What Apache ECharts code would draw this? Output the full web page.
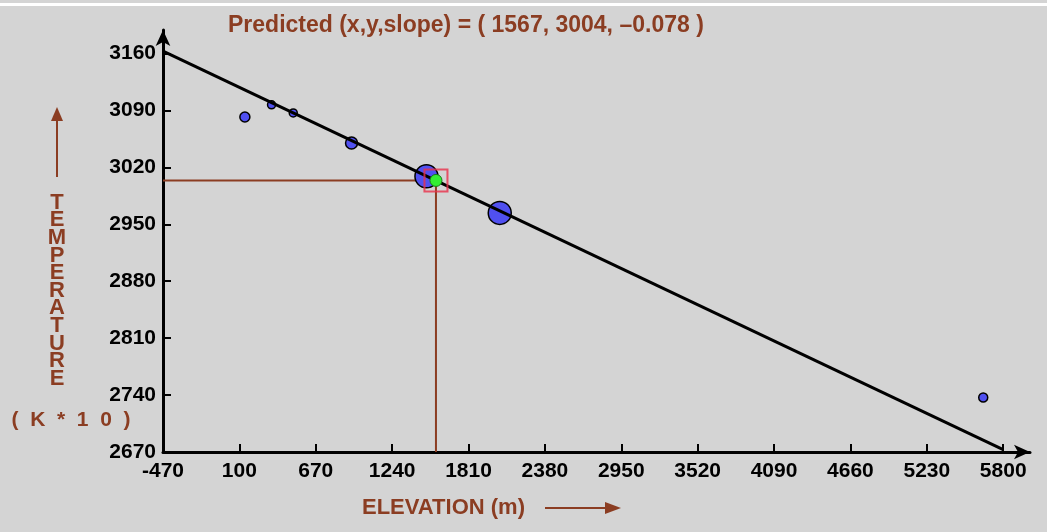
<!DOCTYPE html>
<html>
<head>
<meta charset="utf-8">
<script src="https://cdn.jsdelivr.net/npm/echarts@6/dist/echarts.min.js"></script>
<style>
html,body{margin:0;padding:0;background:#d4d4d4;}
#c{width:1047px;height:532px;}
</style>
</head>
<body>
<div id="c"></div>
<script>
// ---- data ----
const xTicks = [-470, 100, 670, 1240, 1810, 2380, 2950, 3520, 4090, 4660, 5230, 5800];
const yTicks = [2670, 2740, 2810, 2880, 2950, 3020, 3090, 3160];
const elevation = [141, 340, 502, 937, 1496, 2043, 5651];
const temperature = [3082, 3097, 3087, 3050, 3009, 2964, 2737];
const pointSize = [10, 8, 8, 12, 23, 23, 9];
const fitLineX = [-470, 5800];
const fitLineY = [3163, 2673];
const predicted = { x: 1567, y: 3004, slope: -0.078 };
const titleText = 'Predicted (x,y,slope) = ( ' + predicted.x + ', ' + predicted.y + ', ' + predicted.slope.toFixed(3).replace('-', '\u2013') + ' )';

const BROWN = '#8b3d22';
const chart = echarts.init(document.getElementById('c'));
const FONT = '"Liberation Sans", Arial, sans-serif';

chart.setOption({
  backgroundColor: '#d4d4d4',
  animation: false,
  grid: { left: 163, right: 17, top: 30, bottom: 80 },
  xAxis: {
    type: 'value', min: -470, max: 6000,
    axisLine: { show: true, onZero: false, lineStyle: { color: '#000', width: 3 }, symbol: ['none', 'arrow'], symbolSize: [11, 16] },
    axisTick: { show: true, inside: true, length: 8, lineStyle: { color: '#000', width: 2 }, customValues: xTicks },
    axisLabel: { customValues: xTicks, formatter: v => String(v), color: '#000', fontWeight: 'bold', fontSize: 21, fontFamily: FONT, margin: 9 },
    splitLine: { show: false }
  },
  yAxis: {
    type: 'value', min: 2670, max: 3189,
    axisLine: { show: true, onZero: false, lineStyle: { color: '#000', width: 3 }, symbol: ['none', 'arrow'], symbolSize: [11, 16] },
    axisTick: { show: true, inside: true, length: 8, lineStyle: { color: '#000', width: 2 }, customValues: yTicks },
    axisLabel: { customValues: yTicks, formatter: v => String(v), color: '#000', fontWeight: 'bold', fontSize: 21, fontFamily: FONT, margin: 7 },
    splitLine: { show: false }
  },
  series: [
    {
      type: 'line', silent: true, symbol: 'none', z: 2,
      lineStyle: { color: BROWN, width: 2 },
      data: [[xTicks[0], predicted.y], [predicted.x, predicted.y], [predicted.x, yTicks[0]]]
    },
    {
      type: 'scatter', z: 3,
      data: elevation.map((x, i) => ({ value: [x, temperature[i]], symbolSize: pointSize[i] })),
      itemStyle: { color: '#5050f0', borderColor: '#000', borderWidth: 1.5, opacity: 1 }
    },
    {
      type: 'line', silent: true, symbol: 'none', z: 4,
      lineStyle: { color: '#000', width: 3 },
      data: fitLineX.map((x, i) => [x, fitLineY[i]])
    },
    {
      type: 'scatter', z: 5, symbol: 'rect', symbolSize: [23, 22],
      itemStyle: { color: 'rgba(0,0,0,0)', borderColor: '#e8304a', borderWidth: 2 },
      data: [[predicted.x, predicted.y]]
    },
    {
      type: 'scatter', z: 6, symbolSize: 12,
      itemStyle: { color: '#33ee33', borderColor: '#1a7a1a', borderWidth: 1, opacity: 1 },
      data: [[predicted.x, predicted.y]]
    }
  ],
  graphic: [
    { type: 'rect', left: 0, top: 3, shape: { width: 1047, height: 3 }, style: { fill: '#ffffff' } },
    { type: 'text', x: 228, y: 26, style: { text: titleText, fill: BROWN, font: 'bold 23px ' + FONT, verticalAlign: 'middle' } },
    // y title arrow
    { type: 'line', shape: { x1: 57, y1: 177, x2: 57, y2: 114 }, style: { stroke: BROWN, lineWidth: 2 } },
    { type: 'polygon', shape: { points: [[57, 107], [51, 121], [63, 121]] }, style: { fill: BROWN } },
    { type: 'text', x: 57, y: 194, style: { text: 'TEMPERATURE'.split('').join('\n'), fill: BROWN, font: 'bold 22px ' + FONT, align: 'center', verticalAlign: 'top', lineHeight: 17.6 } },
    { type: 'text', x: 71, y: 420, style: { text: '(  K  *  1  0  )', fill: BROWN, font: 'bold 21px ' + FONT, align: 'center', verticalAlign: 'middle' } },
    // x title
    { type: 'text', x: 362, y: 508, style: { text: 'ELEVATION (m)', fill: BROWN, font: 'bold 22px ' + FONT, align: 'left', verticalAlign: 'middle' } },
    { type: 'line', shape: { x1: 545, y1: 508, x2: 612, y2: 508 }, style: { stroke: BROWN, lineWidth: 2 } },
    { type: 'polygon', shape: { points: [[621, 508], [605, 502], [605, 514]] }, style: { fill: BROWN } }
  ]
});
</script>
</body>
</html>
